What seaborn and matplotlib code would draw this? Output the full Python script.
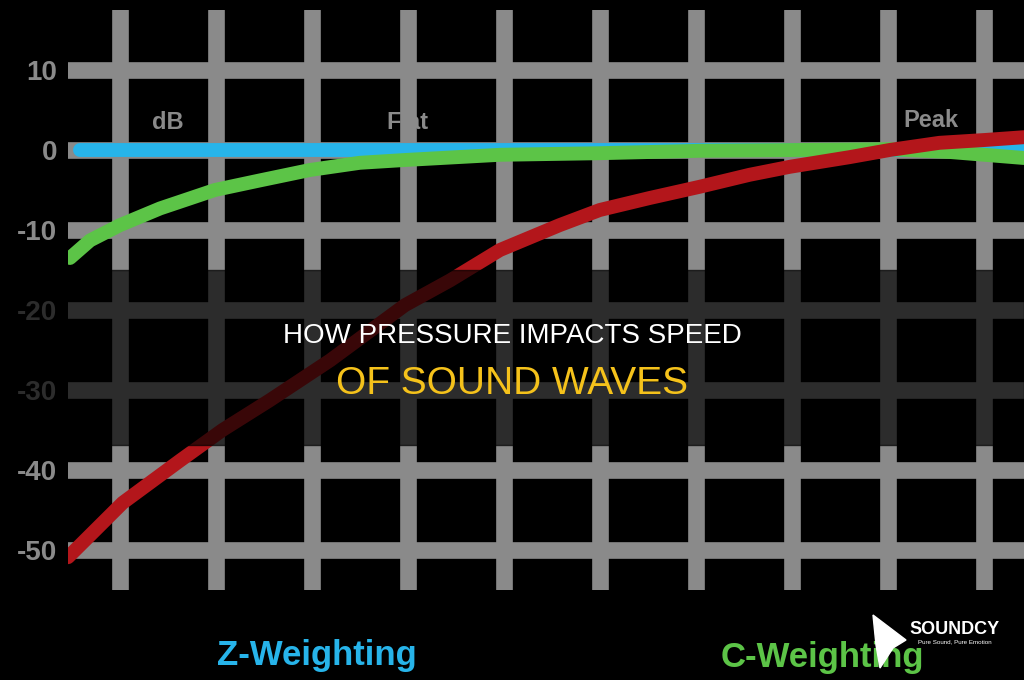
import numpy as np
import pandas as pd
import seaborn as sns
from matplotlib import pyplot as plt
from matplotlib.patches import Rectangle, Polygon

# x is in octaves from the first grid line, y is gain in dB
flat_x = [-0.42, 9.42]
flat_db = [0.0, 0.0]

c_x = [-0.52, -0.31, 0.0, 0.42, 0.99, 1.46, 1.98, 2.5, 2.97, 3.96, 5.0, 6.04, 7.08, 8.02, 8.65, 9.42]
c_db = [-13.5, -11.3, -9.4, -7.3, -5.0, -3.8, -2.5, -1.6, -1.25, -0.6, -0.4, -0.1, 0.0, 0.1, -0.25, -1.0]

a_x = [-0.54, 0.03, 0.63, 1.07, 1.56, 2.19, 2.97, 3.44, 3.96, 4.58, 5.0, 5.52, 6.04, 6.56,
       6.98, 7.6, 8.02, 8.54, 9.01, 9.42]
a_db = [-50.9, -44.1, -38.8, -35.0, -31.3, -26.3, -19.4, -16.3, -12.5, -9.4, -7.5, -6.0, -4.6,
        -3.1, -2.1, -0.9, 0.0, 0.9, 1.25, 1.6]

y_ticks = [10, 0, -10, -20, -30, -40, -50]
x_grid = list(range(10))

sns.set_theme(style="dark")
plt.rcParams['font.family'] = ['Liberation Sans', 'DejaVu Sans']

fig = plt.figure(figsize=(10.24, 6.8), dpi=100, facecolor="black")
ax = fig.add_axes([68 / 1024, 90 / 680, 956 / 1024, 580 / 680])
ax.set_facecolor("black")

grid_col = "#8a8a8a"
for v in x_grid:
    ax.axvline(v, color=grid_col, lw=12, zorder=1)
for h in y_ticks:
    ax.axhline(h, color=grid_col, lw=12, zorder=1)

sns.lineplot(x=flat_x, y=flat_db, ax=ax, color="#27b4ea", lw=10, zorder=3)
sns.lineplot(x=c_x, y=c_db, ax=ax, color="#5cc447", lw=10, zorder=4)
sns.lineplot(x=a_x, y=a_db, ax=ax, color="#b3161b", lw=10, zorder=5)

ax.set_xlim(-0.54, 9.42)
ax.set_ylim(-55, 17.5)
ax.set_yticks(y_ticks)
ax.set_yticklabels([str(t) for t in y_ticks], fontsize=20, fontweight="bold", color=grid_col)
ax.set_xticks([])
ax.tick_params(axis="y", length=0, pad=8)
for s in ax.spines.values():
    s.set_visible(False)
ax.grid(False)

# small labels above the curves
ax.text(0.5, 2.0, "dB", color=grid_col, fontsize=17, fontweight="bold", ha="center", va="bottom", zorder=2)
ax.text(3.0, 2.0, "Flat", color=grid_col, fontsize=17, fontweight="bold", ha="center", va="bottom", zorder=2)
ax.text(8.45, 2.3, "Peak", color=grid_col, fontsize=17, fontweight="bold", ha="center", va="bottom", zorder=2)

# legend words under the chart
fig.text(317 / 1024, 1 - 656 / 680, "Z-Weighting", color="#27b4ea", fontsize=25,
         fontweight="bold", ha="center", va="center")
fig.text(822 / 1024, 1 - 658 / 680, "C-Weighting", color="#5cc447", fontsize=25,
         fontweight="bold", ha="center", va="center")

# dark band with the title
fig.add_artist(Rectangle((0, 1 - 445 / 680), 1, 175 / 680, transform=fig.transFigure,
                         color="black", alpha=0.68, zorder=10))
fig.text(0.5, 1 - 336 / 680, "HOW PRESSURE IMPACTS SPEED", color="white", fontsize=20,
         ha="center", va="center", zorder=11)
fig.text(0.5, 1 - 384 / 680, "OF SOUND WAVES", color="#f5c21b", fontsize=28,
         ha="center", va="center", zorder=11)

# logo
logo = [(873 / 1024, 1 - 615 / 680), (906 / 1024, 1 - 640 / 680), (893 / 1024, 1 - 648 / 680),
        (880 / 1024, 1 - 668 / 680), (876 / 1024, 1 - 645 / 680)]
fig.add_artist(Polygon(logo, closed=True, transform=fig.transFigure, color="white", zorder=11))
fig.text(955 / 1024, 1 - 630 / 680, "SOUNDCY", color="white", fontsize=13, fontweight="bold",
         ha="center", va="center", zorder=11)
fig.text(955 / 1024, 1 - 642 / 680, "Pure Sound, Pure Emotion", color="white", fontsize=4.5,
         ha="center", va="center", zorder=11)

fig.savefig("out.png", dpi=100, facecolor="black")
